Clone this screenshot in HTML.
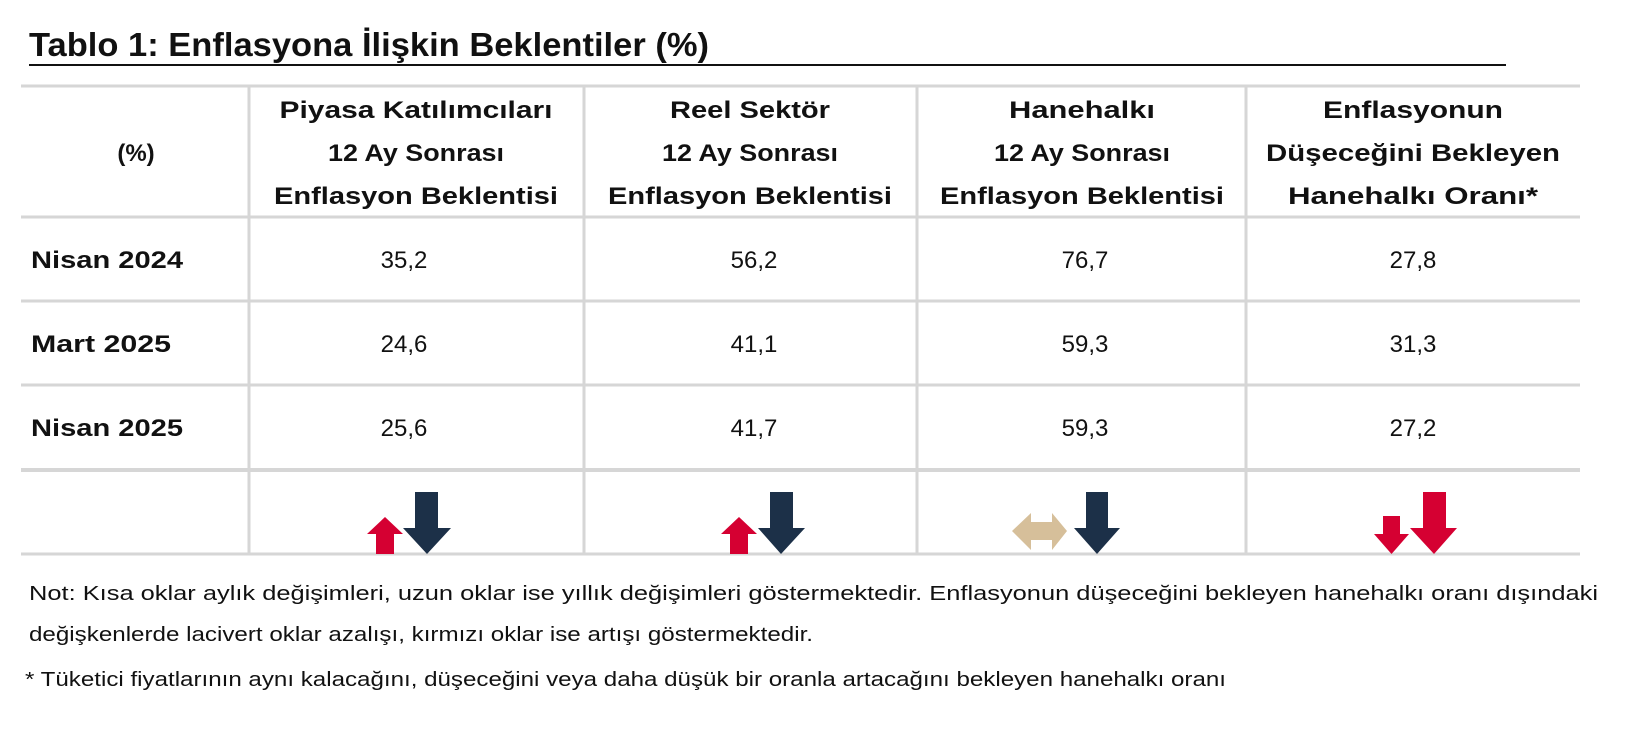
<!DOCTYPE html>
<html><head><meta charset="utf-8"><style>
html,body{margin:0;padding:0;background:#fff;}
svg{display:block;}
text{font-family:"Liberation Sans",sans-serif;fill:#111;}
</style></head><body>
<svg width="1644" height="754" viewBox="0 0 1644 754" xmlns="http://www.w3.org/2000/svg">
<text x="29" y="56" font-size="33" font-weight="bold" textLength="680" lengthAdjust="spacingAndGlyphs">Tablo 1: Enflasyona İlişkin Beklentiler (%)</text>
<rect x="29" y="64" width="1477" height="2" fill="#111"/>
<g stroke="#d6d6d6" stroke-width="3">
<line x1="21" y1="86" x2="1580" y2="86"/>
<line x1="21" y1="217" x2="1580" y2="217"/>
<line x1="21" y1="301" x2="1580" y2="301"/>
<line x1="21" y1="385" x2="1580" y2="385"/>
<line x1="21" y1="470" x2="1580" y2="470" stroke-width="4"/>
<line x1="21" y1="554" x2="1580" y2="554"/>
<line x1="249" y1="86" x2="249" y2="554"/>
<line x1="584" y1="86" x2="584" y2="554"/>
<line x1="917" y1="86" x2="917" y2="554"/>
<line x1="1246" y1="86" x2="1246" y2="554"/>
</g>
<g font-size="24" font-weight="bold" text-anchor="middle">
<text x="136" y="161">(%)</text>
<text x="416" y="118" textLength="273" lengthAdjust="spacingAndGlyphs">Piyasa Katılımcıları</text>
<text x="416" y="161" textLength="176" lengthAdjust="spacingAndGlyphs">12 Ay Sonrası</text>
<text x="416" y="204" textLength="284" lengthAdjust="spacingAndGlyphs">Enflasyon Beklentisi</text>
<text x="750" y="118" textLength="160" lengthAdjust="spacingAndGlyphs">Reel Sektör</text>
<text x="750" y="161" textLength="176" lengthAdjust="spacingAndGlyphs">12 Ay Sonrası</text>
<text x="750" y="204" textLength="284" lengthAdjust="spacingAndGlyphs">Enflasyon Beklentisi</text>
<text x="1082" y="118" textLength="146" lengthAdjust="spacingAndGlyphs">Hanehalkı</text>
<text x="1082" y="161" textLength="176" lengthAdjust="spacingAndGlyphs">12 Ay Sonrası</text>
<text x="1082" y="204" textLength="284" lengthAdjust="spacingAndGlyphs">Enflasyon Beklentisi</text>
<text x="1413" y="118" textLength="180" lengthAdjust="spacingAndGlyphs">Enflasyonun</text>
<text x="1413" y="161" textLength="294" lengthAdjust="spacingAndGlyphs">Düşeceğini Bekleyen</text>
<text x="1413" y="204" textLength="250" lengthAdjust="spacingAndGlyphs">Hanehalkı Oranı*</text>
</g>
<g font-size="24" font-weight="bold">
<text x="31" y="268" textLength="152" lengthAdjust="spacingAndGlyphs">Nisan 2024</text>
<text x="31" y="352" textLength="140" lengthAdjust="spacingAndGlyphs">Mart 2025</text>
<text x="31" y="436" textLength="152" lengthAdjust="spacingAndGlyphs">Nisan 2025</text>
</g>
<g font-size="24" text-anchor="middle">
<text x="404" y="268">35,2</text><text x="754" y="268">56,2</text><text x="1085" y="268">76,7</text><text x="1413" y="268">27,8</text>
<text x="404" y="352">24,6</text><text x="754" y="352">41,1</text><text x="1085" y="352">59,3</text><text x="1413" y="352">31,3</text>
<text x="404" y="436">25,6</text><text x="754" y="436">41,7</text><text x="1085" y="436">59,3</text><text x="1413" y="436">27,2</text>
</g>
<g fill="#d50032">
<polygon points="376,554 394,554 394,534 403,534 385,517 367,534 376,534"/>
<polygon points="730,554 748,554 748,534 757,534 739,517 721,534 730,534"/>
<polygon points="1383,516 1400,516 1400,534 1409,534 1391.5,554 1374,534 1383,534"/>
<polygon points="1423,492 1446,492 1446,528 1457,528 1434,554 1410,528 1423,528"/>
</g>
<g fill="#1c3048">
<polygon points="415,492 438,492 438,528 451,528 427,554 403,528 415,528"/>
<polygon points="770,492 793,492 793,528 805,528 781,554 758,528 770,528"/>
<polygon points="1086,492 1108,492 1108,528 1120,528 1097,554 1074,528 1086,528"/>
</g>
<polygon fill="#d6bf9a" points="1012,531 1031,513 1031,522 1052,522 1052,513 1067,531 1052,550 1052,540 1031,540 1031,550"/>
<g font-size="20">
<text x="29" y="600" textLength="1569" lengthAdjust="spacingAndGlyphs">Not: Kısa oklar aylık değişimleri, uzun oklar ise yıllık değişimleri göstermektedir. Enflasyonun düşeceğini bekleyen hanehalkı oranı dışındaki</text>
<text x="29" y="641" textLength="784" lengthAdjust="spacingAndGlyphs">değişkenlerde lacivert oklar azalışı, kırmızı oklar ise artışı göstermektedir.</text>
<text x="25" y="686" textLength="1201" lengthAdjust="spacingAndGlyphs">* Tüketici fiyatlarının aynı kalacağını, düşeceğini veya daha düşük bir oranla artacağını bekleyen hanehalkı oranı</text>
</g>
</svg>
</body></html>
